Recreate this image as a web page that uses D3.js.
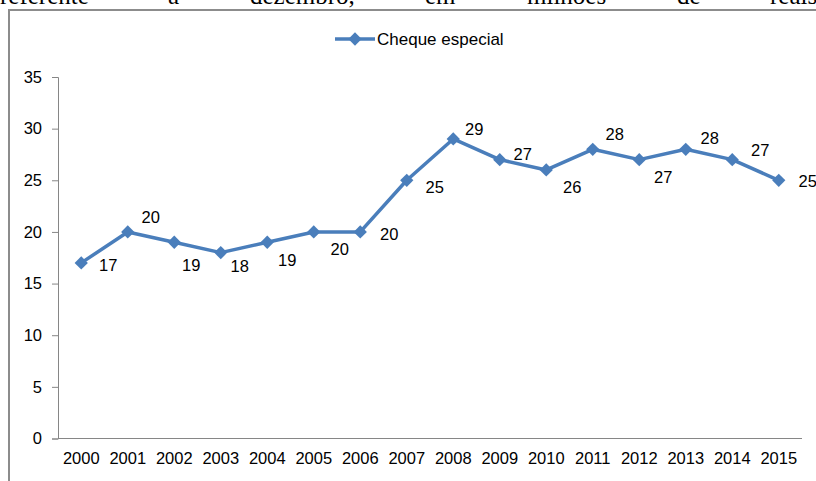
<!DOCTYPE html>
<meta charset="utf-8">
<style>
  body { margin: 0; background: #fff; }
  svg { display: block; }
  text { font-family: "Liberation Sans", Arial, sans-serif; fill: #000; }
</style>
<script src="https://cdn.jsdelivr.net/npm/d3@7"></script>
<div id="chart"></div>
<script>

// data
var years = ["2000","2001","2002","2003","2004","2005","2006","2007",
             "2008","2009","2010","2011","2012","2013","2014","2015"];
var cheque = [17, 20, 19, 18, 19, 20, 20, 25, 29, 27, 26, 28, 27, 28, 27, 25];
var yTicks = [0, 5, 10, 15, 20, 25, 30, 35];
var seriesName = "Cheque especial";
var captionWords = ["referente", "a", "dezembro,", "em", "milhões", "de", "reais"];

var W = 816, H = 481;
var blue = "#4a7ebb", axisGrey = "#868686";

var svg = d3.select("#chart").append("svg")
    .attr("width", W)
    .attr("height", H);

// cut-off line of the document text above the chart
var wordX = [0, 168, 250, 425, 527, 677, 770];
svg.selectAll("text.caption")
    .data(captionWords)
    .enter().append("text")
    .attr("class", "caption")
    .attr("x", function(d, i) { return wordX[i]; })
    .attr("y", 4)
    .style("font-family", "'Liberation Serif', 'Times New Roman', serif")
    .style("font-size", "25px")
    .text(function(d) { return d; });

// chart frame (only left and top edge are in view)
svg.append("rect")
    .attr("x", 9).attr("y", 10)
    .attr("width", 900).attr("height", 600)
    .attr("fill", "none")
    .attr("stroke", "#8c8c8c")
    .attr("stroke-width", 2);

var x = d3.scaleBand().domain(years).range([58, 802]).padding(0);
var y = d3.scaleLinear().domain([0, 35]).range([438.5, 77]);

// y axis
var yAxis = d3.axisLeft(y)
    .tickValues(yTicks)
    .tickSize(6)
    .tickPadding(10);

var gy = svg.append("g")
    .attr("transform", "translate(58,0)")
    .call(yAxis);
gy.select(".domain").attr("stroke", axisGrey);
gy.selectAll(".tick line").attr("stroke", axisGrey);
gy.selectAll(".tick text")
    .style("font-size", "16.5px")
    .style("font-family", "'Liberation Sans', Arial, sans-serif")
    .attr("fill", "#000");

// x axis
var xAxis = d3.axisBottom(x)
    .tickSize(0)
    .tickPadding(14);

var gx = svg.append("g")
    .attr("transform", "translate(0," + y(0) + ")")
    .call(xAxis);
gx.select(".domain").attr("stroke", axisGrey).attr("d", "M58,0H802");
gx.selectAll(".tick text")
    .style("font-size", "16.5px")
    .style("font-family", "'Liberation Sans', Arial, sans-serif")
    .attr("fill", "#000");

// line
var line = d3.line()
    .x(function(d, i) { return x(years[i]) + x.bandwidth() / 2; })
    .y(function(d) { return y(d); });

svg.append("path")
    .datum(cheque)
    .attr("d", line)
    .attr("fill", "none")
    .attr("stroke", blue)
    .attr("stroke-width", 3.5)
    .attr("stroke-linejoin", "round");

// diamond markers
var diamond = d3.symbol().type(d3.symbolSquare).size(88);

svg.selectAll("path.marker")
    .data(cheque)
    .enter().append("path")
    .attr("class", "marker")
    .attr("d", diamond)
    .attr("fill", blue)
    .attr("transform", function(d, i) {
        return "translate(" + (x(years[i]) + x.bandwidth() / 2) + "," + y(d) + ") rotate(45)";
    });

// data labels, nudged like the spreadsheet placed them
var labelNudge = [[27,2],[23,-15],[17,23],[19,14],[20,18],[26,17],[29,2],[28,7],
                  [21,-10],[23,-5],[26,17],[22,-15],[24,18],[24,-11],[28,-9],[29,1]];

svg.selectAll("text.value")
    .data(cheque)
    .enter().append("text")
    .attr("class", "value")
    .attr("x", function(d, i) { return x(years[i]) + x.bandwidth() / 2 + labelNudge[i][0]; })
    .attr("y", function(d, i) { return y(d) + labelNudge[i][1]; })
    .attr("dy", "0.35em")
    .attr("text-anchor", "middle")
    .style("font-size", "16.5px")
    .text(function(d) { return d; });

// legend
var legend = svg.append("g").attr("transform", "translate(335,39)");
legend.append("line")
    .attr("x1", 0).attr("x2", 40)
    .attr("y1", 0).attr("y2", 0)
    .attr("stroke", blue)
    .attr("stroke-width", 3.5);
legend.append("path")
    .attr("d", diamond)
    .attr("fill", blue)
    .attr("transform", "translate(20,0) rotate(45)");
legend.append("text")
    .attr("x", 42)
    .attr("y", 6)
    .style("font-size", "17px")
    .text(seriesName);

</script>
